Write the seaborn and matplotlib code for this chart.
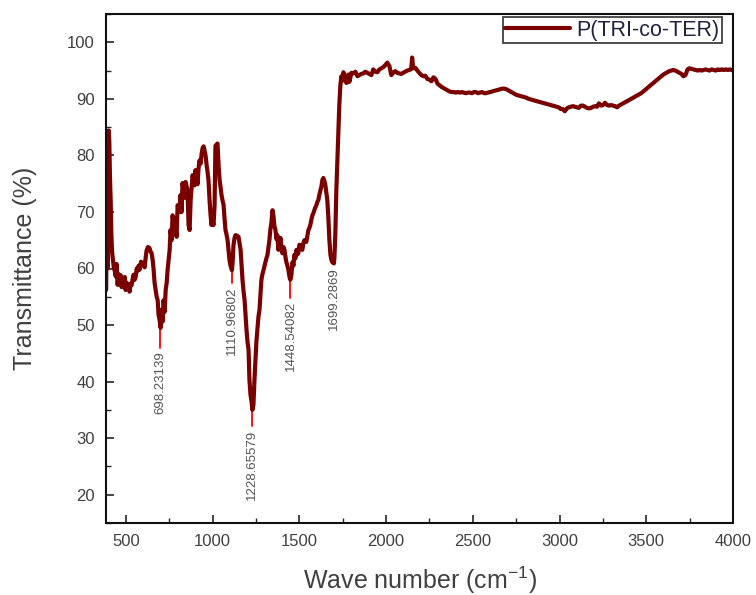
import matplotlib
matplotlib.use("Agg")
import matplotlib.pyplot as plt
import seaborn as sns
import pandas as pd
from matplotlib.ticker import MultipleLocator

# ---- data ----
wavenumber = [
    386, 389, 393, 396, 400, 404, 408, 412, 416, 420, 425, 430, 436, 441, 446, 452, 458, 464, 470, 475,
    481, 487, 493, 498, 504, 510, 516, 521, 527, 533, 539, 544, 550, 556, 562, 567, 573, 579, 587, 596,
    602, 608, 614, 619, 627, 636, 642, 648, 654, 659, 665, 671, 677, 683, 688, 694, 700, 703, 706, 711,
    717, 723, 729, 735, 740, 746, 752, 757, 763, 769, 775, 780, 786, 792, 798, 804, 809, 815, 821, 826,
    832, 838, 844, 850, 855, 861, 867, 873, 879, 884, 890, 896, 901, 907, 913, 918, 924, 930, 936, 942,
    948, 953, 959, 965, 971, 976, 982, 988, 993, 999, 1005, 1011, 1016, 1022, 1028, 1034, 1040, 1045, 1051, 1057,
    1063, 1068, 1074, 1080, 1086, 1092, 1097, 1103, 1111, 1115, 1120, 1126, 1132, 1140, 1149, 1155, 1161, 1167, 1172, 1178,
    1184, 1190, 1195, 1201, 1207, 1212, 1218, 1224, 1229, 1235, 1241, 1247, 1252, 1258, 1264, 1270, 1276, 1281, 1287, 1293,
    1299, 1304, 1310, 1316, 1322, 1327, 1333, 1339, 1345, 1350, 1356, 1362, 1368, 1373, 1379, 1385, 1391, 1396, 1402, 1408,
    1414, 1420, 1425, 1431, 1437, 1443, 1448, 1454, 1460, 1466, 1471, 1477, 1483, 1489, 1494, 1500, 1506, 1512, 1517, 1523,
    1529, 1535, 1540, 1546, 1552, 1558, 1563, 1569, 1575, 1581, 1586, 1592, 1598, 1604, 1609, 1615, 1621, 1627, 1632, 1638,
    1644, 1650, 1655, 1661, 1667, 1673, 1679, 1685, 1690, 1699, 1702, 1707, 1713, 1719, 1725, 1730, 1736, 1742, 1748, 1754,
    1759, 1765, 1771, 1777, 1782, 1788, 1794, 1800, 1812, 1823, 1835, 1846, 1857, 1869, 1880, 1892, 1903, 1915, 1926, 1938,
    1950, 1961, 1973, 1984, 1996, 2007, 2019, 2030, 2041, 2053, 2064, 2076, 2087, 2099, 2111, 2122, 2134, 2145, 2150, 2156,
    2168, 2180, 2191, 2203, 2215, 2226, 2238, 2250, 2261, 2273, 2285, 2296, 2308, 2320, 2331, 2343, 2355, 2366, 2378, 2390,
    2401, 2413, 2425, 2436, 2448, 2460, 2471, 2483, 2495, 2506, 2518, 2530, 2541, 2553, 2565, 2576, 2588, 2600, 2611, 2623,
    2634, 2646, 2658, 2669, 2681, 2693, 2704, 2716, 2728, 2739, 2751, 2763, 2774, 2786, 2797, 2809, 2821, 2832, 2844, 2856,
    2867, 2879, 2890, 2902, 2914, 2925, 2937, 2949, 2960, 2972, 2984, 2995, 3007, 3019, 3030, 3042, 3053, 3065, 3077, 3088,
    3100, 3111, 3123, 3135, 3146, 3158, 3169, 3181, 3193, 3204, 3216, 3227, 3239, 3251, 3262, 3274, 3285, 3297, 3309, 3320,
    3332, 3343, 3355, 3367, 3378, 3390, 3401, 3413, 3425, 3436, 3448, 3459, 3471, 3483, 3494, 3506, 3517, 3529, 3541, 3552,
    3564, 3575, 3587, 3599, 3610, 3622, 3633, 3645, 3656, 3668, 3680, 3691, 3703, 3714, 3726, 3738, 3749, 3761, 3772, 3784,
    3796, 3807, 3819, 3830, 3842, 3854, 3865, 3877, 3888, 3900, 3912, 3923, 3935, 3946, 3958, 3970, 3981, 3993, 4000,
]
transmittance = [
    56.2, 69.4, 60.0, 65.0, 84.4, 82.5, 76.0, 72.0, 66.0, 63.0, 61.5, 60.2, 59.5, 58.6, 60.8, 57.1, 59.0, 57.5, 58.8, 56.7,
    58.2, 57.0, 58.5, 56.2, 57.5, 56.5, 57.2, 55.9, 57.3, 57.1, 58.2, 58.9, 58.0, 58.5, 60.0, 59.6, 60.5, 59.8, 61.2, 60.6,
    61.0, 60.2, 62.0, 63.2, 63.8, 63.6, 63.0, 62.7, 61.5, 60.0, 57.5, 56.2, 55.0, 54.4, 51.8, 50.9, 49.5, 51.5, 52.7, 50.6,
    54.4, 52.3, 56.2, 57.5, 59.7, 61.5, 63.3, 66.8, 65.0, 69.4, 67.7, 68.9, 67.0, 65.6, 71.2, 70.5, 70.0, 73.0, 70.0, 75.1,
    74.0, 72.5, 75.3, 74.5, 73.8, 67.7, 66.8, 72.1, 74.5, 76.5, 75.8, 74.7, 77.4, 76.0, 74.9, 77.5, 79.1, 78.5, 80.2, 81.3,
    81.6, 80.9, 80.0, 78.3, 77.0, 75.6, 72.1, 69.4, 67.7, 68.5, 67.7, 71.2, 81.7, 81.9, 82.1, 78.3, 75.6, 74.5, 73.0, 72.0,
    71.2, 69.0, 66.8, 66.0, 65.0, 63.0, 61.5, 60.5, 59.7, 61.1, 64.1, 65.4, 65.9, 65.8, 65.6, 64.5, 63.3, 60.5, 58.0, 56.0,
    54.4, 51.5, 49.2, 47.0, 45.6, 40.3, 37.7, 36.5, 35.0, 35.9, 40.3, 43.9, 47.0, 49.2, 51.5, 52.7, 55.5, 58.0, 59.0, 59.7,
    60.5, 61.1, 61.8, 62.4, 63.8, 65.0, 67.0, 68.2, 70.3, 69.4, 67.5, 66.8, 65.2, 65.9, 63.3, 64.5, 65.4, 63.8, 62.7, 63.8,
    63.3, 62.0, 61.1, 60.5, 59.7, 58.5, 58.0, 58.9, 61.1, 60.5, 62.4, 61.8, 63.3, 62.5, 62.7, 64.2, 64.1, 63.5, 63.3, 64.5,
    65.0, 64.8, 64.7, 65.8, 66.8, 67.2, 67.7, 68.6, 69.4, 69.8, 70.3, 70.8, 71.2, 71.8, 72.1, 73.0, 73.8, 74.5, 75.6, 76.0,
    75.5, 74.7, 73.5, 72.1, 69.0, 65.0, 62.4, 61.5, 61.1, 60.9, 62.0, 65.9, 73.8, 79.1, 84.4, 88.8, 92.3, 94.0, 93.2, 94.7,
    94.1, 93.4, 92.8, 93.6, 94.3, 93.0, 93.8, 94.6, 94.5, 94.8, 94.0, 94.2, 94.4, 94.5, 94.8, 94.6, 94.4, 94.2, 95.2, 94.8,
    94.7, 95.2, 95.4, 95.6, 96.0, 96.4, 95.8, 94.2, 94.6, 94.9, 94.6, 94.5, 94.4, 94.6, 94.8, 95.0, 95.1, 95.3, 97.3, 95.4,
    95.5, 95.0, 94.6, 94.2, 94.0, 94.1, 93.5, 93.4, 93.1, 93.8, 93.5, 92.7, 92.4, 92.1, 91.9, 91.7, 91.5, 91.3, 91.2, 91.2,
    91.1, 91.2, 91.1, 91.2, 91.1, 91.0, 91.1, 91.1, 91.0, 91.2, 91.2, 91.0, 91.1, 91.2, 91.0, 91.0, 91.1, 91.2, 91.3, 91.4,
    91.5, 91.6, 91.7, 91.8, 91.8, 91.7, 91.5, 91.3, 91.1, 90.9, 90.7, 90.6, 90.5, 90.4, 90.3, 90.2, 90.0, 89.9, 89.8, 89.7,
    89.6, 89.5, 89.4, 89.3, 89.2, 89.1, 89.0, 88.9, 88.8, 88.7, 88.6, 88.5, 88.2, 88.2, 87.8, 88.3, 88.5, 88.6, 88.7, 88.6,
    88.5, 88.4, 88.8, 88.8, 88.6, 88.4, 88.3, 88.4, 88.6, 88.7, 88.6, 89.2, 88.8, 88.9, 89.3, 88.9, 88.8, 88.9, 88.8, 88.7,
    88.5, 88.8, 89.0, 89.2, 89.4, 89.6, 89.8, 90.0, 90.2, 90.4, 90.6, 90.8, 91.0, 91.3, 91.6, 91.9, 92.2, 92.5, 92.8, 93.1,
    93.4, 93.7, 94.0, 94.3, 94.5, 94.7, 94.9, 95.0, 95.1, 95.0, 94.8, 94.6, 94.4, 94.0, 94.2, 95.2, 95.4, 95.3, 95.2, 95.1,
    95.0, 95.1, 95.0, 95.1, 95.2, 95.1, 95.0, 95.2, 95.1, 95.0, 95.2, 95.1, 95.2, 95.1, 95.2, 95.1, 95.2, 95.1, 95.0,
]

peak_pos = [698.23139, 1110.96802, 1228.65579, 1448.54082, 1699.2869]
peak_labels = ["698.23139", "1110.96802", "1228.65579", "1448.54082", "1699.2869"]
peak_top = [50.0, 61.5, 35.6, 58.9, 63.3]
peak_bottom = [46.0, 57.4, 32.1, 54.8, 60.9]

x_ticks = [500, 1000, 1500, 2000, 2500, 3000, 3500, 4000]
y_ticks = [20, 30, 40, 50, 60, 70, 80, 90, 100]
series_name = "P(TRI-co-TER)"

# ---- plot ----
sns.set_style("ticks")
plt.rcParams["font.family"] = ["Liberation Sans", "DejaVu Sans"]
plt.rcParams["mathtext.fontset"] = "custom"
plt.rcParams["mathtext.rm"] = "Liberation Sans"
plt.rcParams["mathtext.it"] = "Liberation Sans"

fig = plt.figure(figsize=(7.56, 5.95), dpi=100)
ax = fig.add_axes([106 / 756, 1 - 523 / 595, (733 - 106) / 756, (523 - 14) / 595])

df = pd.DataFrame({"wavenumber": wavenumber, "transmittance": transmittance})
line_color = "#7a0000"
sns.lineplot(data=df, x="wavenumber", y="transmittance", ax=ax, color=line_color,
             linewidth=3.0, sort=False, estimator=None, label=series_name)

for xp, yt, yb, lab in zip(peak_pos, peak_top, peak_bottom, peak_labels):
    ax.plot([xp, xp], [yt, yb], color="red", linewidth=1.3, zorder=1)
    ax.text(xp, yb - 0.6, lab, rotation=90, ha="center", va="top",
            fontsize=9.5, color="#555555")

ax.set_xlim(385, 4000)
ax.set_ylim(15, 105)
ax.set_xticks(x_ticks)
ax.set_yticks(y_ticks)
ax.xaxis.set_minor_locator(MultipleLocator(250))
ax.yaxis.set_minor_locator(MultipleLocator(5))
ax.tick_params(axis="both", which="major", direction="in", length=6, width=1.2,
               labelsize=12, labelcolor="#404040", top=False, right=False, pad=8)
ax.tick_params(axis="both", which="minor", direction="in", length=3.5, width=1.0,
               top=False, right=False)
for s in ax.spines.values():
    s.set_linewidth(1.5)
    s.set_color("#111111")

ax.set_xlabel(r"Wave number (cm$^{-1}$)", fontsize=18, color="#404040", labelpad=11)
ax.set_ylabel("Transmittance (%)", fontsize=18, color="#404040", labelpad=22)

leg = ax.legend(loc="upper right", bbox_to_anchor=(722 / 756, 1 - 17 / 595),
                bbox_transform=fig.transFigure, borderaxespad=0, frameon=True,
                fancybox=False, fontsize=15.5, handlelength=3.0, handletextpad=0.3,
                borderpad=0.12, edgecolor="#111111")
leg.get_frame().set_linewidth(1.3)
for t in leg.get_texts():
    t.set_color("#202040")
for h in leg.get_lines():
    h.set_linewidth(3)

fig.savefig("out.png", dpi=100)
